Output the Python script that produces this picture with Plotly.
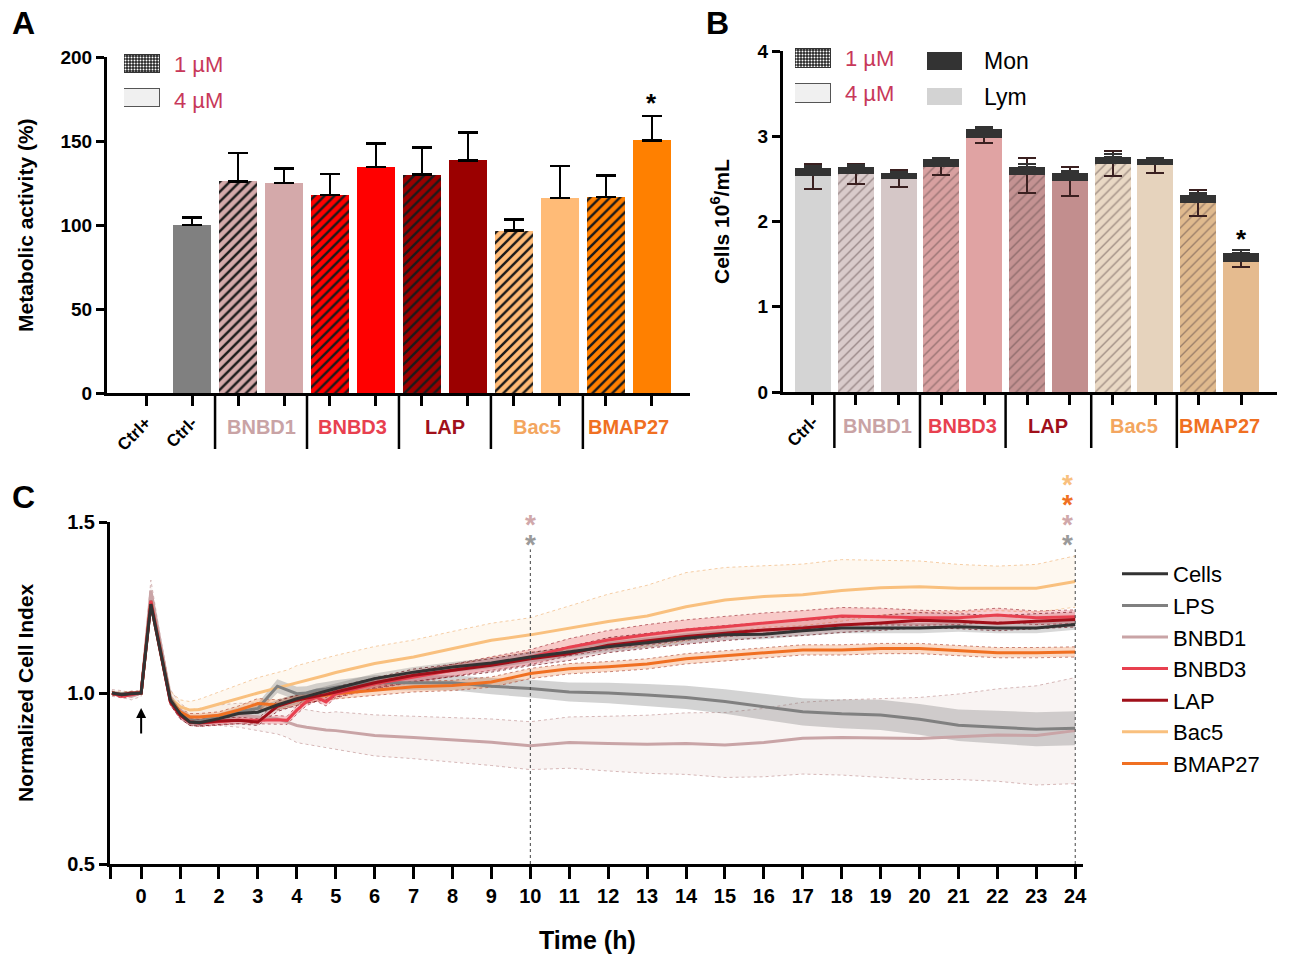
import plotly.graph_objects as go

W, H = 1289, 955
FONT = "Liberation Sans, Arial, sans-serif"
NARROW = "Liberation Sans Narrow, Arial Narrow, Liberation Sans, sans-serif"

# ---------------- data: panel A ----------------
peptides = ["BNBD1", "BNBD3", "LAP", "Bac5", "BMAP27"]
a_categories = ["Ctrl+", "Ctrl-"] + [f"{p} {c}" for p in peptides for c in ("1 µM", "4 µM")]
a_values = [0, 100, 126, 125, 118, 134.5, 130, 138.5, 96.6, 116, 116.7, 150.4]
a_errors = [0, 4.6, 17, 8.5, 12.5, 14, 16, 16.7, 6.8, 19.2, 12.7, 14.6]
a_ticktext = ["Ctrl+", "Ctrl-"] + [""] * 10
a_star = ["BMAP27 4 µM"]

# ---------------- data: panel B ----------------
b_categories = ["Ctrl-"] + [f"{p} {c}" for p in peptides for c in ("1 µM", "4 µM")]
b_lym = [2.53, 2.56, 2.50, 2.64, 2.98, 2.54, 2.47, 2.68, 2.66, 2.22, 1.53]
b_lym_err = [0.15, 0.12, 0.10, 0.09, 0.06, 0.20, 0.17, 0.15, 0.09, 0.15, 0.06]
b_mon = [0.10, 0.08, 0.07, 0.09, 0.10, 0.10, 0.10, 0.08, 0.07, 0.09, 0.10]
b_mon_err = [0.02, 0.02, 0.01, 0.02, 0.03, 0.03, 0.02, 0.03, 0.02, 0.03, 0.03]
b_ticktext = ["Ctrl-"] + [""] * 10
b_star = ["BMAP27 4 µM"]

# ---------------- data: panel C ----------------
time_h = [-0.75, -0.5, -0.25, 0, 0.25, 0.5, 0.75, 1, 1.25, 1.5,
          2, 2.5, 3, 3.5, 3.75, 4, 4.25, 4.5, 4.75, 5,
          6, 7, 8, 9, 10, 11, 12, 13, 14, 15, 16, 17, 18, 19, 20, 21, 22, 23, 24]

cells_mean = [1.0, 0.995, 0.998, 1.0, 1.26, 1.12, 0.98, 0.94, 0.915, 0.913,
              0.925, 0.94, 0.944, 0.965, 0.975, 0.983, 0.99, 0.998, 1.005, 1.013,
              1.042, 1.061, 1.076, 1.088, 1.105, 1.12, 1.135, 1.147, 1.16, 1.17, 1.172, 1.182, 1.19, 1.19, 1.19, 1.194, 1.19, 1.19, 1.2]
cells_sd = [0.005, 0.005, 0.005, 0.005, 0.015, 0.012, 0.01, 0.01, 0.01, 0.01,
            0.01, 0.01, 0.012, 0.015, 0.015, 0.015, 0.015, 0.015, 0.015, 0.015,
            0.015, 0.015, 0.015, 0.015, 0.015, 0.015, 0.015, 0.015, 0.015, 0.015, 0.015, 0.015, 0.015, 0.015, 0.015, 0.015, 0.015, 0.015, 0.015]

lps_mean = [1.0, 0.998, 1.0, 1.0, 1.27, 1.125, 0.985, 0.945, 0.92, 0.918,
            0.93, 0.945, 0.955, 1.02, 1.01, 0.998, 1.0, 1.008, 1.012, 1.017,
            1.03, 1.03, 1.03, 1.02, 1.013, 1.003, 1.0, 0.994, 0.987, 0.975, 0.96, 0.945, 0.939, 0.936, 0.923, 0.906, 0.9, 0.894, 0.897]
lps_sd = [0.005, 0.005, 0.005, 0.005, 0.02, 0.015, 0.01, 0.01, 0.01, 0.01,
          0.01, 0.012, 0.015, 0.02, 0.02, 0.02, 0.02, 0.02, 0.02, 0.02,
          0.022, 0.022, 0.022, 0.024, 0.026, 0.028, 0.03, 0.032, 0.034, 0.036, 0.038, 0.04, 0.042, 0.044, 0.045, 0.046, 0.048, 0.05, 0.05]

bnbd1_mean = [1.0, 0.997, 0.99, 1.0, 1.30, 1.14, 0.99, 0.95, 0.93, 0.93,
              0.935, 0.935, 0.93, 0.925, 0.915, 0.905, 0.9, 0.895, 0.892, 0.89,
              0.876, 0.87, 0.864, 0.856, 0.846, 0.855, 0.852, 0.85, 0.852, 0.848, 0.855, 0.868, 0.87, 0.868, 0.867, 0.872, 0.877, 0.876, 0.89]
bnbd1_sd = [0.01, 0.01, 0.01, 0.01, 0.03, 0.02, 0.02, 0.02, 0.02, 0.025,
            0.03, 0.035, 0.04, 0.045, 0.045, 0.05, 0.05, 0.05, 0.05, 0.055,
            0.06, 0.062, 0.065, 0.068, 0.07, 0.075, 0.08, 0.085, 0.09, 0.095, 0.1, 0.105, 0.11, 0.115, 0.12, 0.125, 0.135, 0.145, 0.155]

bnbd3_mean = [1.0, 0.99, 0.995, 1.0, 1.27, 1.12, 0.975, 0.935, 0.915, 0.912,
              0.915, 0.92, 0.92, 0.922, 0.92, 0.95, 0.975, 0.988, 0.974, 0.998,
              1.027, 1.047, 1.066, 1.086, 1.105, 1.134, 1.155, 1.17, 1.184, 1.194, 1.204, 1.213, 1.225, 1.223, 1.22, 1.22, 1.228, 1.22, 1.223]
bnbd3_sd = [0.005, 0.005, 0.005, 0.005, 0.02, 0.015, 0.01, 0.01, 0.01, 0.01,
            0.01, 0.01, 0.01, 0.012, 0.012, 0.012, 0.012, 0.012, 0.012, 0.012,
            0.015, 0.015, 0.018, 0.02, 0.022, 0.025, 0.028, 0.03, 0.03, 0.03, 0.03, 0.028, 0.025, 0.025, 0.022, 0.02, 0.02, 0.02, 0.02]

lap_mean = [1.0, 0.995, 1.0, 1.0, 1.26, 1.12, 0.975, 0.935, 0.915, 0.913,
            0.918, 0.92, 0.915, 0.961, 0.97, 0.979, 0.985, 0.99, 0.996, 1.003,
            1.03, 1.052, 1.066, 1.081, 1.1, 1.115, 1.14, 1.153, 1.165, 1.175, 1.184, 1.19, 1.199, 1.205, 1.213, 1.21, 1.204, 1.21, 1.215]
lap_sd = [0.005, 0.005, 0.005, 0.005, 0.015, 0.012, 0.01, 0.01, 0.01, 0.01,
          0.01, 0.01, 0.01, 0.015, 0.015, 0.015, 0.015, 0.015, 0.015, 0.015,
          0.015, 0.018, 0.018, 0.02, 0.02, 0.02, 0.022, 0.022, 0.022, 0.022, 0.022, 0.022, 0.022, 0.022, 0.022, 0.022, 0.022, 0.022, 0.022]

bac5_mean = [1.0, 0.998, 1.0, 1.0, 1.27, 1.12, 0.985, 0.96, 0.95, 0.952,
             0.968, 0.985, 1.0, 1.015, 1.022, 1.03, 1.038, 1.045, 1.052, 1.06,
             1.086, 1.105, 1.13, 1.154, 1.17, 1.19, 1.209, 1.225, 1.252, 1.272, 1.282, 1.287, 1.3, 1.308, 1.311, 1.306, 1.306, 1.306, 1.326]
bac5_sd = [0.005, 0.005, 0.005, 0.005, 0.02, 0.02, 0.02, 0.02, 0.025, 0.03,
           0.035, 0.04, 0.045, 0.045, 0.045, 0.05, 0.05, 0.05, 0.05, 0.05,
           0.05, 0.05, 0.05, 0.05, 0.05, 0.065, 0.08, 0.09, 0.1, 0.095, 0.09, 0.09, 0.09, 0.08, 0.075, 0.07, 0.065, 0.07, 0.075]

bmap27_mean = [1.0, 0.993, 0.998, 1.0, 1.265, 1.12, 0.98, 0.945, 0.93, 0.93,
               0.935, 0.95, 0.969, 0.965, 0.972, 0.979, 0.985, 0.99, 0.994, 0.998,
               1.008, 1.018, 1.022, 1.032, 1.057, 1.071, 1.077, 1.085, 1.1, 1.108, 1.116, 1.126, 1.126, 1.13, 1.13, 1.124, 1.118, 1.118, 1.12]
bmap27_sd = [0.005, 0.005, 0.005, 0.005, 0.015, 0.012, 0.01, 0.01, 0.01, 0.01,
             0.01, 0.012, 0.015, 0.015, 0.015, 0.015, 0.015, 0.015, 0.015, 0.015,
             0.015, 0.015, 0.015, 0.015, 0.015, 0.015, 0.015, 0.015, 0.015, 0.015, 0.015, 0.015, 0.015, 0.015, 0.015, 0.015, 0.015, 0.015, 0.015]

treatment_time = 0
sig_times = {10: ["LPS", "BNBD1"], 24: ["LPS", "BNBD1", "BMAP27", "Bac5"]}
c_xticks = list(range(0, 25))

# ---------------- styles ----------------
a_colors = ["#000000", "#808080"] + [c for c in ["#d4a9aa", "#ff0000", "#9b0000", "#ffbb77", "#ff8000"] for _ in (0, 1)]
b_colors = ["#d4d4d4", "#d9cbcb", "#d5c7c7", "#d8a0a0", "#e0a3a3", "#c49292", "#c28e8e",
            "#e9d8c4", "#e6d3bd", "#e0ba8e", "#e5bb8f"]
group_label_colors = {"BNBD1": "#c9a3a5", "BNBD3": "#e8404f", "LAP": "#a0101a", "Bac5": "#f3a660", "BMAP27": "#f07022"}
legend_red = "#c8385a"

series = {
    "Cells": (cells_mean, cells_sd, "#333333", "rgba(60,60,60,0.2)", None),
    "LPS": (lps_mean, lps_sd, "#808080", "rgba(120,120,120,0.33)", None),
    "BNBD1": (bnbd1_mean, bnbd1_sd, "#c9a4a6", "rgba(220,195,190,0.18)", "rgba(200,160,160,0.75)"),
    "BNBD3": (bnbd3_mean, bnbd3_sd, "#e8404f", "rgba(232,64,79,0.25)", "rgba(150,30,40,0.6)"),
    "LAP": (lap_mean, lap_sd, "#a0101a", "rgba(160,16,26,0.15)", "rgba(110,10,20,0.7)"),
    "Bac5": (bac5_mean, bac5_sd, "#f9c07e", "rgba(250,200,140,0.13)", "rgba(240,180,120,0.65)"),
    "BMAP27": (bmap27_mean, bmap27_sd, "#f07022", "rgba(240,112,34,0.25)", "rgba(170,60,40,0.6)"),
}
legend_order = ["Cells", "LPS", "BNBD1", "BNBD3", "LAP", "Bac5", "BMAP27"]
draw_order = ["BNBD1", "Bac5", "LPS", "BMAP27", "BNBD3", "LAP", "Cells"]

for k, (m, s, *_rest) in series.items():
    assert len(m) == len(time_h) and len(s) == len(time_h), k


def px_x(p):
    return p / W


def px_y(p):
    return 1 - p / H


# ---------------- axes geometry ----------------
A_XDOM, A_YDOM, A_XR, A_YR = [px_x(107), px_x(690)], [px_y(393), px_y(57)], [-0.85, 11.83], [0, 200]
B_XDOM, B_YDOM, B_XR, B_YR = [px_x(783), px_x(1277)], [px_y(392), px_y(51)], [-0.70, 10.84], [0, 4]
C_XDOM, C_YDOM, C_XR, C_YR = [px_x(110), px_x(1083)], [px_y(864), px_y(522)], [-0.8, 24.2], [0.5, 1.5]


def to_paper_x(dom, rng, v):
    return dom[0] + (v - rng[0]) / (rng[1] - rng[0]) * (dom[1] - dom[0])


def to_paper_y(dom, rng, v):
    return dom[0] + (v - rng[0]) / (rng[1] - rng[0]) * (dom[1] - dom[0])


fig = go.Figure()

# ---------------- Panel A bars (one trace per bar so the hatch keeps its own colours) ----------------
a_x = list(range(len(a_categories)))
for i, cat in enumerate(a_categories):
    hatched = "1 µM" in cat
    err = dict(type="data", symmetric=False, array=[a_errors[i]], arrayminus=[0],
               color="#000000", thickness=2.5, width=10, visible=a_values[i] > 0)
    fig.add_trace(go.Bar(
        x=[a_x[i]], y=[a_values[i]], width=0.83, xaxis="x", yaxis="y", showlegend=False, name=cat,
        marker=dict(color=a_colors[i], line=dict(width=0),
                    pattern=dict(shape="/" if hatched else "", fgcolor="#1a1a1a", fgopacity=1,
                                 size=7, solidity=0.35, fillmode="overlay")),
        error_y=err,
    ))

# ---------------- Panel B bars ----------------
b_x = list(range(len(b_categories)))
for i, cat in enumerate(b_categories):
    hatched = "1 µM" in cat
    fig.add_trace(go.Bar(
        x=[b_x[i]], y=[b_lym[i]], width=0.84, xaxis="x2", yaxis="y2", showlegend=False, name=cat + " Lym",
        marker=dict(color=b_colors[i], line=dict(width=0),
                    pattern=dict(shape="/" if hatched else "", fgcolor="#5a4646", fgopacity=0.5,
                                 size=7, solidity=0.2, fillmode="overlay")),
        error_y=dict(type="data", array=[b_lym_err[i]], color="#3a2020", thickness=2, width=9),
    ))
fig.add_trace(go.Bar(
    x=b_x, y=b_mon, width=0.84, xaxis="x2", yaxis="y2", showlegend=False, name="Mon",
    marker=dict(color="#333333", line=dict(width=0)),
    error_y=dict(type="data", symmetric=False, array=b_mon_err, arrayminus=[0] * len(b_mon),
                 color="#333333", thickness=2, width=9),
))

# ---------------- legend swatches for A and B (patterned) ----------------
for xa, ya in (("x4", "y4"), ("x5", "y5")):
    fig.add_trace(go.Bar(
        orientation="h", y=[1], x=[1], width=0.52, xaxis=xa, yaxis=ya, showlegend=False, hoverinfo="skip",
        marker=dict(color="#262626", line=dict(color="#333333", width=1),
                    pattern=dict(shape=".", fgcolor="#ffffff", fgopacity=1, size=3, solidity=0.35,
                                 fillmode="overlay")),
    ))
    fig.add_trace(go.Bar(
        orientation="h", y=[0], x=[1], width=0.52, xaxis=xa, yaxis=ya, showlegend=False, hoverinfo="skip",
        marker=dict(color="#f0f0f0", line=dict(color="#555555", width=1)),
    ))

# ---------------- Panel C ----------------
for name in draw_order:
    m, s, col, fill, edge = series[name]
    up = [a + b for a, b in zip(m, s)]
    lo = [a - b for a, b in zip(m, s)]
    fig.add_trace(go.Scatter(x=time_h + time_h[::-1], y=up + lo[::-1], fill="toself", fillcolor=fill,
                             line=dict(width=0), mode="lines", xaxis="x3", yaxis="y3",
                             showlegend=False, hoverinfo="skip"))
    if edge:
        for arr in (up, lo):
            fig.add_trace(go.Scatter(x=time_h, y=arr, mode="lines", line=dict(color=edge, width=1, dash="dot"),
                                     xaxis="x3", yaxis="y3", showlegend=False, hoverinfo="skip"))
for name in draw_order:
    m, s, col, fill, edge = series[name]
    fig.add_trace(go.Scatter(x=time_h, y=m, mode="lines", name=name, line=dict(color=col, width=3),
                             xaxis="x3", yaxis="y3", legendrank=legend_order.index(name) + 1))

# ---------------- layout ----------------
tick_bold = dict(family=FONT, size=19, color="#000", weight="bold")
axis_common = dict(showline=True, linewidth=3, linecolor="#000", ticks="outside", tickwidth=3,
                   tickcolor="#000", showgrid=False, zeroline=False, fixedrange=True, automargin=False)

layout = dict(
    width=W, height=H, margin=dict(l=0, r=0, t=0, b=0, pad=0, autoexpand=False), autosize=False,
    paper_bgcolor="white", plot_bgcolor="rgba(0,0,0,0)", barmode="stack", bargap=0,
    font=dict(family=FONT, color="#000"),
    xaxis=dict(domain=A_XDOM, range=A_XR, anchor="y", tickvals=a_x, ticktext=a_ticktext, ticklen=10,
               tickangle=-45, tickfont=dict(family=FONT, size=17, color="#000", weight="bold"), **axis_common),
    yaxis=dict(domain=A_YDOM, range=A_YR, anchor="x", tickvals=[0, 50, 100, 150, 200], ticklen=8,
               tickfont=tick_bold, **axis_common),
    xaxis2=dict(domain=B_XDOM, range=B_XR, anchor="y2", tickvals=b_x, ticktext=b_ticktext, ticklen=10,
                tickangle=-45, tickfont=dict(family=FONT, size=17, color="#000", weight="bold"), **axis_common),
    yaxis2=dict(domain=B_YDOM, range=B_YR, anchor="x2", tickvals=[0, 1, 2, 3, 4], ticklen=8,
                tickfont=tick_bold, **axis_common),
    xaxis3=dict(domain=C_XDOM, range=C_XR, anchor="y3", tickvals=[C_XR[0]] + c_xticks,
                ticktext=[""] + [str(v) for v in c_xticks], ticklen=12,
                tickfont=dict(family=NARROW, size=20, color="#000", weight="bold"), **axis_common),
    yaxis3=dict(domain=C_YDOM, range=C_YR, anchor="x3", tickvals=[0.5, 1.0, 1.5], tickformat=".1f", ticklen=8,
                tickfont=dict(family=NARROW, size=20, color="#000", weight="bold"), **axis_common),
    xaxis4=dict(domain=[px_x(124), px_x(160)], range=[0, 1], visible=False, anchor="y4", fixedrange=True),
    yaxis4=dict(domain=[px_y(115), px_y(47)], range=[-0.5, 1.5], visible=False, anchor="x4", fixedrange=True),
    xaxis5=dict(domain=[px_x(795), px_x(831)], range=[0, 1], visible=False, anchor="y5", fixedrange=True),
    yaxis5=dict(domain=[px_y(111), px_y(41)], range=[-0.5, 1.5], visible=False, anchor="x5", fixedrange=True),
    legend=dict(x=px_x(1117), y=px_y(553), xanchor="left", yanchor="top", bgcolor="rgba(0,0,0,0)",
                font=dict(family=FONT, size=22, color="#000"), itemwidth=46, tracegroupgap=0,
                traceorder="normal"),
    showlegend=True,
)

shapes = []
annotations = []


def text(x, y, s, size, color="#000", bold=False, angle=0, xanchor="center", family=FONT, yanchor="middle"):
    f = dict(family=family, size=size, color=color)
    if bold:
        f["weight"] = "bold"
    annotations.append(dict(x=x, y=y, xref="paper", yref="paper", text=s, showarrow=False, font=f,
                            textangle=angle, xanchor=xanchor, yanchor=yanchor))


# panel letters
text(px_x(10), px_y(23), "A", 32, bold=True, xanchor="left")
text(px_x(704), px_y(23), "B", 32, bold=True, xanchor="left")
text(px_x(10), px_y(497), "C", 32, bold=True, xanchor="left")

# axis titles
text(px_x(26), px_y(225), "Metabolic activity (%)", 21, bold=True, angle=-90)
text(px_x(720), px_y(222), "Cells 10<sup>6</sup>/mL", 21, bold=True, angle=-90)
text(px_x(25), px_y(693), "Normalized Cell Index", 21, bold=True, angle=-90)
text(px_x(587), px_y(940), "Time (h)", 25, bold=True, family=NARROW)

# group separators + group labels (A: groups start at index 2, B: at index 1)
for dom, rng, start, ax_px in ((A_XDOM, A_XR, 2, 393), (B_XDOM, B_XR, 1, 392)):
    for i, p in enumerate(peptides):
        left = start + 2 * i - 0.5
        xs = to_paper_x(dom, rng, left)
        shapes.append(dict(type="line", xref="paper", yref="paper", x0=xs, x1=xs,
                           y0=px_y(ax_px), y1=px_y(ax_px + 56), line=dict(color="#000", width=2.5)))
        xc = to_paper_x(dom, rng, start + 2 * i + 0.5)
        text(xc, px_y(ax_px + 34), p, 20, color=group_label_colors[p], bold=True)

# significance stars A and B
for cat in a_star:
    i = a_categories.index(cat)
    annotations.append(dict(x=a_x[i], y=a_values[i] + a_errors[i], xref="x", yref="y", text="*",
                            showarrow=False, yanchor="bottom", yshift=-4,
                            font=dict(family=FONT, size=26, color="#000", weight="bold")))
for cat in b_star:
    i = b_categories.index(cat)
    annotations.append(dict(x=b_x[i], y=b_lym[i] + b_mon[i] + b_mon_err[i], xref="x2", yref="y2", text="*",
                            showarrow=False, yanchor="bottom", yshift=-6,
                            font=dict(family=FONT, size=26, color="#000", weight="bold")))

# A legend text
text(px_x(172), px_y(64), "1 µM", 22, color=legend_red, xanchor="left")
text(px_x(172), px_y(100), "4 µM", 22, color=legend_red, xanchor="left")
# B legend text + Mon/Lym swatches
text(px_x(843), px_y(58), "1 µM", 22, color=legend_red, xanchor="left")
text(px_x(843), px_y(94), "4 µM", 22, color=legend_red, xanchor="left")
for (ytop, ybot, col, lab, yc) in ((52, 70, "#333333", "Mon", 61), (88, 105, "#d3d3d3", "Lym", 97)):
    shapes.append(dict(type="rect", xref="paper", yref="paper", x0=px_x(927), x1=px_x(962),
                       y0=px_y(ybot), y1=px_y(ytop), fillcolor=col, line=dict(width=0)))
    text(px_x(982), px_y(yc), lab, 23, xanchor="left")

# Panel C: vertical dotted lines, stars, arrow
star_colors = {k: v[2] for k, v in series.items()}
star_colors["LPS"] = "#9a9a9a"
star_colors["BNBD1"] = "#d0a8aa"
for t, names in sig_times.items():
    shapes.append(dict(type="line", xref="x3", yref="y3", x0=t, x1=t, y0=C_YR[0], y1=1.42,
                       line=dict(color="#444", width=1, dash="dot")))
    for j, n in enumerate(names):
        annotations.append(dict(x=to_paper_x(C_XDOM, C_XR, t), y=to_paper_y(C_YDOM, C_YR, 1.456 + 0.058 * j),
                                xref="paper", yref="paper", text="*", showarrow=False,
                                yanchor="middle", yshift=-7,
                                font=dict(family=FONT, size=28, color=star_colors[n], weight="bold")))

annotations.append(dict(x=treatment_time, y=0.956, ax=treatment_time, ay=0.877, xref="x3", yref="y3",
                        axref="x3", ayref="y3", text="", showarrow=True, arrowhead=2, arrowsize=1,
                        arrowwidth=2, arrowcolor="#000"))

layout["shapes"] = shapes
layout["annotations"] = annotations
fig.update_layout(**layout)

post = """
var gd = document.getElementById('{plot_id}');
document.documentElement.style.margin = '0';
document.body.style.margin = '0';
document.body.style.padding = '0';
gd.style.position = 'fixed';
gd.style.top = '0px';
gd.style.left = '0px';
document.documentElement.style.overflow = 'hidden';
document.body.style.overflow = 'hidden';
"""
fig.write_html("out.html", post_script=post, config={"displayModeBar": False})
